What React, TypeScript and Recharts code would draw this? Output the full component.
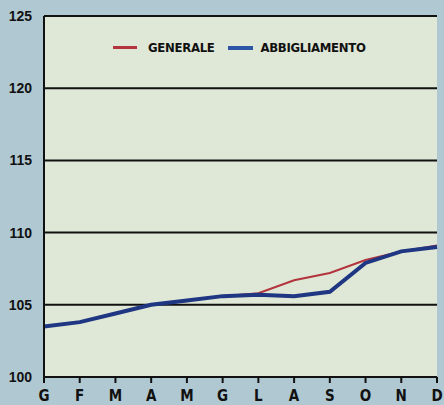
import { LineChart, CartesianGrid, XAxis, YAxis, Legend, Line } from "recharts"

const months = ["G", "F", "M", "A", "M", "G", "L", "A", "S", "O", "N", "D"]
const generale = [103.5, 103.8, 104.4, 105.0, 105.3, 105.6, 105.8, 106.7, 107.2, 108.1, 108.7, 109.1]
const abbigliamento = [103.5, 103.8, 104.4, 105.0, 105.3, 105.6, 105.7, 105.6, 105.9, 107.9, 108.7, 109.0]
const yTicks = [100, 105, 110, 115, 120, 125]

const data = months.map((m, i) => ({
  i,
  m,
  generale: generale[i],
  abbigliamento: abbigliamento[i],
}))

const narrow = "'Liberation Sans Narrow', 'DejaVu Sans Condensed', sans-serif"

const LegendBox = () => (
  <div
    style={{
      display: "flex",
      alignItems: "center",
      fontFamily: narrow,
      fontWeight: "bold",
      fontSize: 13,
      letterSpacing: -0.3,
      color: "#111",
      whiteSpace: "nowrap",
    }}
  >
    <span style={{ display: "inline-block", width: 24, height: 3, background: "#b3343c", marginRight: 11 }} />
    <span style={{ marginRight: 14 }}>GENERALE</span>
    <span style={{ display: "inline-block", width: 25, height: 4, background: "#2c55a6", marginRight: 7 }} />
    <span>ABBIGLIAMENTO</span>
  </div>
)

export default function App() {
  return (
    <div style={{ position: "fixed", left: 0, top: 0, width: 444, height: 405, background: "#b0c8d2" }}>
      <LineChart width={444} height={405} data={data} margin={{ top: 16, right: 7, bottom: 0, left: 0 }}>
        <CartesianGrid yAxisId="l" vertical={false} stroke="#111" strokeWidth={2} fill="#dfe7d6" fillOpacity={1} />
        <XAxis
          dataKey="i"
          type="number"
          domain={[0, 11]}
          ticks={data.map((d) => d.i)}
          tickFormatter={(v: number) => months[v]}
          height={28}
          stroke="#111"
          strokeWidth={2}
          tickSize={6}
          tickMargin={7}
          tick={{ fill: "#111", fontSize: 15, fontWeight: "bold", fontFamily: narrow }}
          interval={0}
        />
        <YAxis
          yAxisId="l"
          domain={[100, 125]}
          ticks={yTicks}
          width={44}
          stroke="#111"
          strokeWidth={2}
          tickLine={false}
          tick={{ fill: "#111", fontSize: 14, fontWeight: "bold", fontFamily: "'Liberation Sans', sans-serif" }}
          tickMargin={6}
        />
        <YAxis yAxisId="r" orientation="right" domain={[100, 125]} width={0} stroke="#111" strokeWidth={2} tick={false} tickLine={false} />
        <Legend
          verticalAlign="middle"
          align="center"
          content={() => <LegendBox />}
          wrapperStyle={{ top: 40, left: 113, width: "auto" }}
        />
        <Line
          yAxisId="l"
          dataKey="generale"
          name="GENERALE"
          stroke="#b3343c"
          strokeWidth={2}
          dot={false}
          type="linear"
          isAnimationActive={false}
        />
        <Line
          yAxisId="l"
          dataKey="abbigliamento"
          name="ABBIGLIAMENTO"
          stroke="#1f3682"
          strokeWidth={4}
          dot={false}
          type="linear"
          isAnimationActive={false}
        />
      </LineChart>
    </div>
  )
}
